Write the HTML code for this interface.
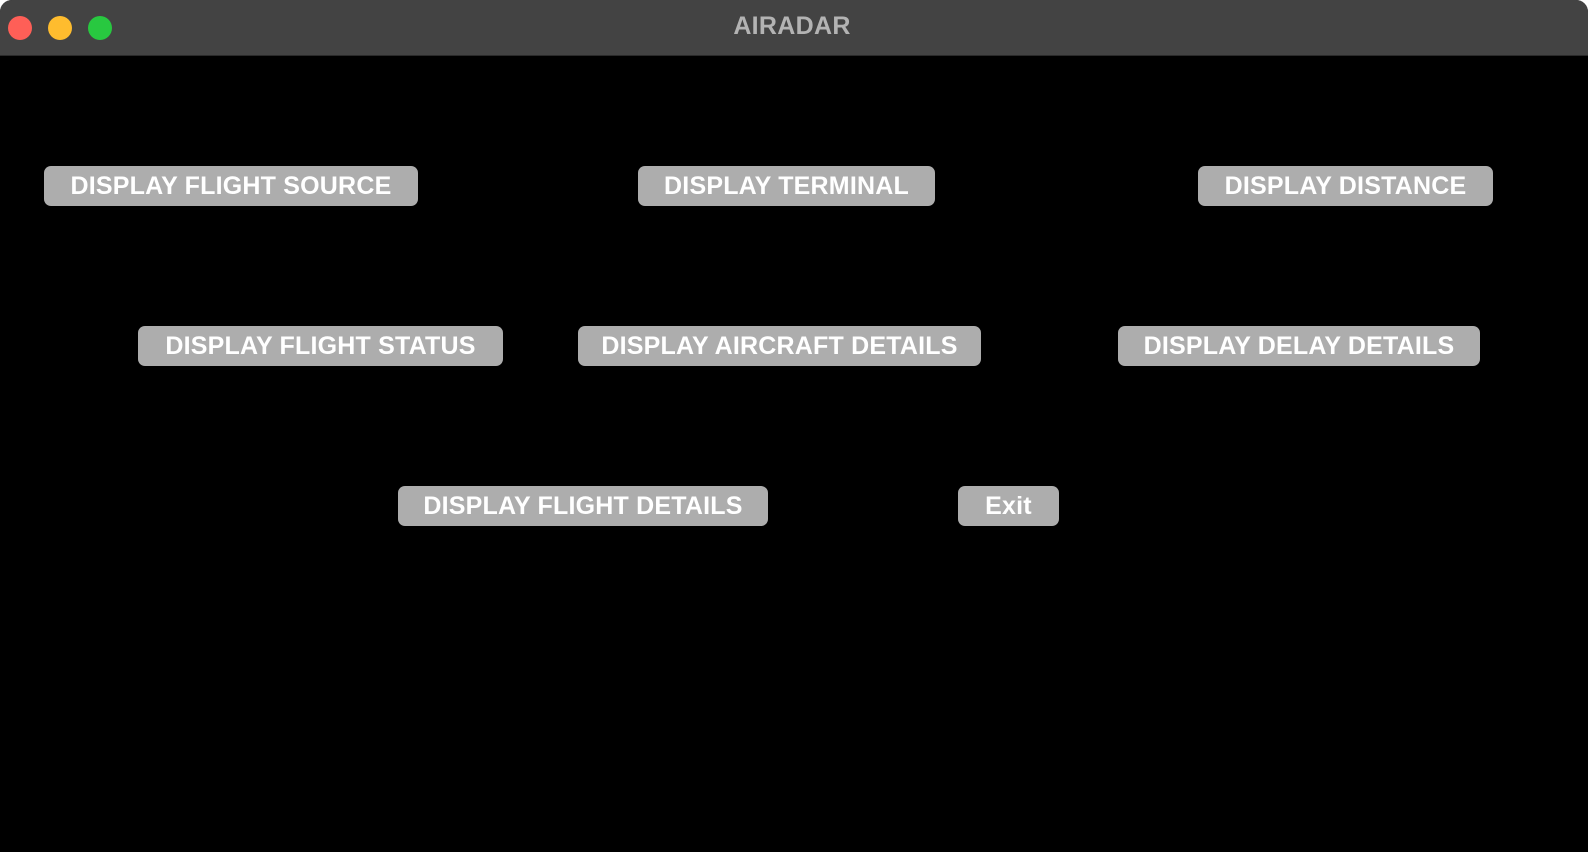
<!DOCTYPE html>
<html><head><meta charset="utf-8"><style>
html,body{margin:0;padding:0;width:1588px;height:852px;overflow:hidden;background:#fff;}
.win{position:absolute;left:0;top:0;width:1588px;height:852px;background:#000;border-radius:12px 12px 0 0;overflow:hidden;}
.bar{position:absolute;left:0;top:0;width:1588px;height:56px;background:#434343;border-bottom:1px solid #2a2a2a;box-sizing:border-box;}
.dot{position:absolute;top:16px;width:24px;height:24px;border-radius:50%;}
.title{position:absolute;left:0;width:1588px;top:12px;text-align:center;font:bold 25px "Liberation Sans",sans-serif;color:#b3b3b3;padding-right:4px;box-sizing:border-box;letter-spacing:0.3px;}
.b{position:absolute;height:40px;background:#adadad;border-radius:7px;color:#fff;font:bold 25px "Liberation Sans",sans-serif;text-align:center;line-height:40px;white-space:nowrap;letter-spacing:0.2px;}
</style></head><body>
<div class="win">
<div class="bar">
<div class="dot" style="left:8px;background:#fe5f57"></div>
<div class="dot" style="left:48px;background:#febc2e"></div>
<div class="dot" style="left:88px;background:#28c840"></div>
<div class="title">AIRADAR</div>
</div>
<div class="b" style="left:44px;top:166px;width:374px">DISPLAY FLIGHT SOURCE</div>
<div class="b" style="left:638px;top:166px;width:297px">DISPLAY TERMINAL</div>
<div class="b" style="left:1198px;top:166px;width:295px">DISPLAY DISTANCE</div>
<div class="b" style="left:138px;top:326px;width:365px">DISPLAY FLIGHT STATUS</div>
<div class="b" style="left:578px;top:326px;width:403px">DISPLAY AIRCRAFT DETAILS</div>
<div class="b" style="left:1118px;top:326px;width:362px">DISPLAY DELAY DETAILS</div>
<div class="b" style="left:398px;top:486px;width:370px">DISPLAY FLIGHT DETAILS</div>
<div class="b" style="left:958px;top:486px;width:101px">Exit</div>
</div>
</body></html>
